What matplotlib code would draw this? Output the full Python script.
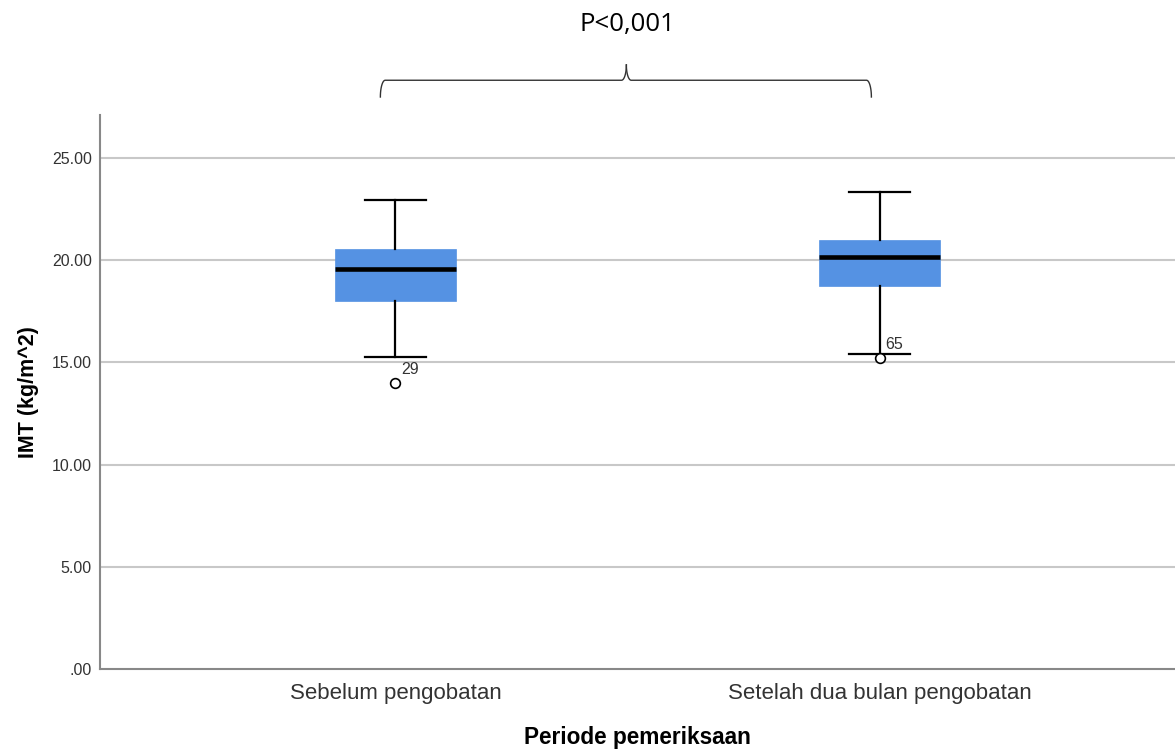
import matplotlib.pyplot as plt
import numpy as np

# box statistics
groups = ["Sebelum pengobatan", "Setelah dua bulan pengobatan"]
whisker_low = [15.26, 15.41]
q1 = [18.00, 18.74]
median = [19.57, 20.16]
q3 = [20.55, 20.99]
whisker_high = [22.95, 23.34]
outliers = [[13.99], [15.22]]
outlier_ids = [["29"], ["65"]]
yticks = [0, 5, 10, 15, 20, 25]
ytick_labels = [".00", "5.00", "10.00", "15.00", "20.00", "25.00"]

plt.rcParams['font.family'] = ['Liberation Sans', 'DejaVu Sans']

fig = plt.figure(figsize=(11.75, 7.49), dpi=100)
ax = fig.add_axes([100 / 1175, 80 / 749, 1 - 100 / 1175, (669 - 115) / 749])

stats = []
for i in range(len(groups)):
    stats.append({
        "whislo": whisker_low[i], "q1": q1[i], "med": median[i],
        "q3": q3[i], "whishi": whisker_high[i], "fliers": outliers[i],
    })

pos = np.arange(len(groups))
ax.bxp(stats, positions=pos, widths=0.25, capwidths=0.125, patch_artist=True,
       showfliers=True,
       boxprops=dict(facecolor="#5592e3", edgecolor="#5592e3", linewidth=0.5),
       medianprops=dict(color="black", linewidth=3.3),
       whiskerprops=dict(color="black", linewidth=1.6),
       capprops=dict(color="black", linewidth=1.6),
       flierprops=dict(marker="o", markerfacecolor="white", markeredgecolor="black",
                       markersize=7, markeredgewidth=1.2),
       zorder=3)

# case numbers next to the outliers
for i, (vals, ids) in enumerate(zip(outliers, outlier_ids)):
    for v, t in zip(vals, ids):
        ax.text(pos[i] + 0.012, v + 0.3, t, fontsize=11.5, color="#333333",
                ha="left", va="bottom")

ax.set_xlim(-0.61, 1.61)
ax.set_ylim(0, 27.1)
ax.set_yticks(yticks)
ax.set_yticklabels(ytick_labels)
ax.set_xticks(pos)
ax.set_xticklabels(groups)
ax.tick_params(axis="both", length=0, labelsize=11.5, colors="#333333")
ax.tick_params(axis="x", labelsize=16, pad=10)
ax.tick_params(axis="y", pad=6)
for v in yticks[1:]:
    ax.axhline(v, color="#c8c8c8", linewidth=1.5, zorder=1)

for s in ["top", "right"]:
    ax.spines[s].set_visible(False)
for s in ["left", "bottom"]:
    ax.spines[s].set_color("#888888")
    ax.spines[s].set_linewidth(1.5)

ax.set_ylabel("IMT (kg/m^2)", fontsize=15.5, fontweight="bold", labelpad=9)
ax.set_xlabel("Periode pemeriksaan", fontsize=16.3, fontweight="bold", labelpad=16)

# curly bracket over both groups
x0, x1, xm = -0.031, 0.983, 0.477
yb, yh, yp = 27.98, 28.8, 29.55
dx = 0.01
t = np.linspace(0, np.pi / 2, 20)
end_x = x0 + dx * (1 - np.cos(t))
end_y = yb + (yh - yb) * np.sin(t)
mid_x = xm - dx + dx * np.sin(t)
mid_y = yh + (yp - yh) * (1 - np.cos(t))
lx = np.concatenate([end_x, mid_x])
ly = np.concatenate([end_y, mid_y])
ax.plot(lx, ly, color="#333333", linewidth=1, clip_on=False)
# right half: mirror of the left, stretched to reach x1
rx = xm + (xm - lx) * (x1 - xm) / (xm - x0)
rx = np.where(lx > xm - dx - 1e-9, xm + (xm - lx), rx)
rx[:20] = x1 - (end_x - x0)
ax.plot(rx, ly, color="#333333", linewidth=1, clip_on=False)

fig.text(627 / 1175, 1 - 25 / 749, "P<0,001", fontsize=18.5, ha="center", va="center",
         family=["Open Sans", "DejaVu Sans"], color="black")

fig.savefig("out.png", dpi=100)
